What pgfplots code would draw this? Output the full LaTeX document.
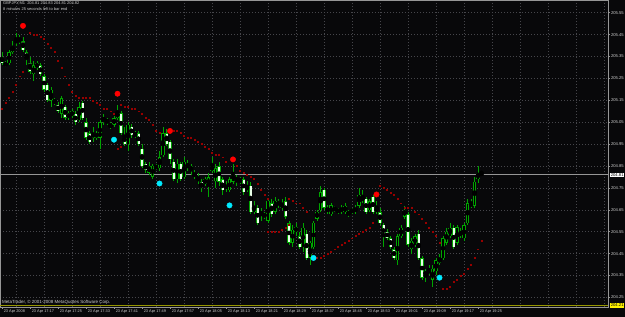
\documentclass[border=0pt]{standalone}
\usepackage{fontspec}
\setmainfont{Liberation Sans}
\usepackage{pgfplots}
\usepackage{pgfplotstable}
\pgfplotsset{compat=1.18}
\definecolor{bg}{RGB}{8,8,10}
\definecolor{cgreen}{RGB}{0,165,0}
\definecolor{bearfill}{RGB}{232,255,232}
\definecolor{sardot}{RGB}{150,0,0}
\definecolor{bigred}{RGB}{255,0,0}
\definecolor{bigcyan}{RGB}{0,235,255}
\definecolor{gridc}{RGB}{70,70,75}
\definecolor{framec}{RGB}{150,150,150}
\definecolor{txt}{RGB}{205,205,205}
\definecolor{askc}{RGB}{150,150,0}

\pgfplotstableread{
i o h l c
0 205.35 205.37 205.31 205.32
1 205.32 205.33 205.30 205.31
6 205.42 205.44 205.37 205.38
7 205.37 205.38 205.31 205.34
8 205.32 205.35 205.27 205.28
10 205.32 205.33 205.29 205.30
11 205.31 205.32 205.26 205.27
12 205.26 205.27 205.19 205.20
13 205.22 205.23 205.14 205.15
15 205.15 205.16 205.13 205.14
16 205.13 205.14 205.09 205.10
18 205.12 205.13 205.06 205.07
20 205.10 205.11 205.07 205.08
21 205.09 205.10 205.04 205.05
23 205.14 205.15 205.06 205.07
24 205.05 205.07 204.97 204.98
25 205.00 205.01 204.95 204.96
30 205.06 205.07 205.04 205.05
31 205.04 205.05 205.02 205.03
34 205.09 205.10 204.99 205.00
35 204.99 205.03 204.94 204.95
37 205.03 205.04 204.98 204.99
38 205.00 205.01 204.98 204.99
39 205.00 205.01 204.94 204.95
40 204.93 204.95 204.84 204.85
41 204.86 204.87 204.82 204.83
47 205.00 205.02 204.94 204.95
48 204.96 204.97 204.86 204.88
49 204.87 204.88 204.78 204.79
51 204.86 204.87 204.78 204.79
53 204.86 204.88 204.83 204.84
54 204.85 204.86 204.81 204.83
55 204.82 204.83 204.79 204.80
57 204.78 204.79 204.73 204.75
62 204.85 204.87 204.76 204.78
63 204.79 204.80 204.72 204.74
67 204.80 204.81 204.76 204.78
68 204.79 204.80 204.77 204.78
69 204.79 204.80 204.72 204.73
71 204.76 204.78 204.63 204.64
73 204.66 204.67 204.58 204.59
75 204.63 204.64 204.61 204.62
77 204.68 204.70 204.62 204.63
79 204.69 204.70 204.66 204.67
81 204.69 204.71 204.61 204.62
82 204.59 204.60 204.49 204.50
84 204.57 204.59 204.53 204.55
85 204.53 204.55 204.47 204.48
87 204.54 204.56 204.42 204.43
92 204.74 204.75 204.65 204.66
93 204.66 204.67 204.63 204.64
95 204.66 204.67 204.64 204.65
99 204.64 204.65 204.62 204.63
104 204.70 204.71 204.63 204.64
106 204.71 204.72 204.63 204.64
108 204.64 204.66 204.58 204.59
109 204.58 204.59 204.48 204.53
110 204.55 204.56 204.51 204.52
111 204.52 204.53 204.47 204.48
112 204.47 204.48 204.42 204.43
116 204.63 204.64 204.48 204.49
119 204.54 204.56 204.42 204.43
120 204.43 204.44 204.33 204.34
122 204.38 204.40 204.35 204.36
129 204.57 204.58 204.47 204.48
131 204.55 204.57 204.52 204.53
137 204.82 204.83 204.81 204.81
}\bear

\pgfplotstableread{
i o h l c
2 205.32 205.38 205.31 205.37
3 205.37 205.42 205.36 205.40
4 205.41 205.46 205.40 205.43
5 205.42 205.45 205.41 205.43
9 205.27 205.33 205.24 205.31
14 205.15 205.21 205.12 205.20
17 205.09 205.17 205.07 205.16
19 205.07 205.10 205.06 205.09
22 205.06 205.14 205.05 205.12
26 204.98 205.03 204.96 205.00
27 204.98 205.01 204.97 205.00
28 204.98 205.06 204.93 205.05
29 205.05 205.09 205.04 205.07
32 205.04 205.08 205.03 205.07
33 205.07 205.13 205.06 205.10
36 204.95 205.05 204.92 205.04
42 204.82 204.87 204.81 204.85
43 204.80 204.86 204.79 204.85
44 204.84 204.86 204.83 204.85
45 204.84 204.92 204.83 204.89
46 204.90 205.03 204.89 205.00
50 204.79 204.88 204.77 204.86
52 204.80 204.89 204.79 204.87
56 204.78 204.82 204.77 204.80
58 204.77 204.80 204.76 204.79
59 204.76 204.82 204.71 204.80
60 204.83 204.89 204.82 204.85
61 204.78 204.86 204.75 204.84
64 204.75 204.78 204.73 204.76
65 204.74 204.80 204.73 204.79
66 204.78 204.86 204.77 204.82
70 204.74 204.78 204.73 204.76
72 204.64 204.69 204.63 204.67
74 204.63 204.66 204.60 204.64
76 204.60 204.70 204.59 204.69
78 204.64 204.71 204.63 204.69
80 204.66 204.70 204.65 204.68
83 204.50 204.58 204.48 204.56
86 204.48 204.59 204.46 204.57
88 204.43 204.51 204.40 204.50
89 204.48 204.60 204.47 204.59
90 204.61 204.65 204.60 204.64
91 204.65 204.76 204.64 204.73
94 204.63 204.68 204.62 204.67
96 204.64 204.66 204.63 204.65
97 204.64 204.67 204.63 204.66
98 204.64 204.68 204.63 204.67
100 204.64 204.66 204.63 204.65
101 204.64 204.67 204.63 204.66
102 204.67 204.75 204.66 204.72
103 204.69 204.74 204.68 204.71
105 204.65 204.70 204.64 204.69
107 204.64 204.69 204.63 204.66
113 204.42 204.54 204.40 204.53
114 204.53 204.58 204.52 204.57
115 204.62 204.67 204.61 204.65
117 204.47 204.52 204.45 204.51
118 204.49 204.54 204.48 204.53
121 204.35 204.38 204.32 204.37
123 204.33 204.40 204.30 204.38
124 204.37 204.43 204.35 204.42
125 204.41 204.45 204.40 204.43
126 204.43 204.53 204.42 204.52
127 204.50 204.57 204.49 204.55
128 204.53 204.59 204.52 204.57
130 204.50 204.58 204.49 204.57
132 204.52 204.59 204.51 204.58
133 204.59 204.70 204.58 204.68
134 204.67 204.70 204.66 204.68
135 204.67 204.80 204.66 204.78
136 204.79 204.85 204.77 204.82
}\bull

\pgfplotstableread{
i p
0 205.11
1 205.14
2 205.16
3 205.19
4 205.22
5 205.26
6 205.28
8 205.46
9 205.45
10 205.45
11 205.44
12 205.43
13 205.41
14 205.39
15 205.37
16 205.33
17 205.30
18 205.26
19 205.22
20 205.19
21 205.17
22 205.16
23 205.16
24 205.16
25 205.16
26 205.15
27 205.14
28 205.13
29 205.11
30 205.11
31 205.10
32 205.09
33 204.93
34 204.94
34 205.13
35 205.12
36 205.12
37 205.11
38 205.11
39 205.10
40 205.09
41 205.07
42 205.06
43 205.04
44 205.01
45 205.00
49 205.01
50 205.01
51 205.00
52 204.99
53 204.98
54 204.98
55 204.97
56 204.96
57 204.95
58 204.94
59 204.93
60 204.91
61 204.90
62 204.90
63 204.89
64 204.87
67 204.85
68 204.83
69 204.82
70 204.81
71 204.80
72 204.79
73 204.77
74 204.74
75 204.72
76 204.70
76 204.55
77 204.55
78 204.55
79 204.55
80 204.56
81 204.57
82 204.58
82 204.70
83 204.69
84 204.68
85 204.68
86 204.66
87 204.64
90 204.43
91 204.43
92 204.44
93 204.45
94 204.46
95 204.47
96 204.48
97 204.49
98 204.50
99 204.51
100 204.52
101 204.53
102 204.54
103 204.55
104 204.56
105 204.57
106 204.59
108 204.76
109 204.75
110 204.74
111 204.73
112 204.72
113 204.70
114 204.68
115 204.66
116 204.66
117 204.66
118 204.64
119 204.63
120 204.61
121 204.59
122 204.57
123 204.55
124 204.53
125 204.50
126 204.29
127 204.29
128 204.30
129 204.32
130 204.33
131 204.35
132 204.36
133 204.38
134 204.40
135 204.43
136 204.47
137 204.51
}\sar

\pgfplotstableread{
i p
6 205.49
33 205.18
48 205.01
66 204.88
107 204.72
}\reddots

\pgfplotstableread{
i p
32 204.97
45 204.77
65 204.67
89 204.43
125 204.34
}\cyandots

\begin{document}
\begin{tikzpicture}
\fill[bg] (0,0) rectangle (625bp,317bp);
\begin{axis}[
  at={(0bp,10bp)}, anchor=south west,
  scale only axis, width=608bp, height=307bp,
  xmin=-0.571, xmax=173.14, ymin=204.206, ymax=205.608,
  axis line style={draw=framec, line width=0.6bp},
  xtick={0,8,...,136},
  xticklabels={23 Apr 2008,23 Apr 17:17,23 Apr 17:25,23 Apr 17:33,23 Apr 17:41,23 Apr 17:49,23 Apr 17:57,23 Apr 18:05,23 Apr 18:13,23 Apr 18:21,23 Apr 18:29,23 Apr 18:37,23 Apr 18:45,23 Apr 18:53,23 Apr 19:01,23 Apr 19:09,23 Apr 19:17,23 Apr 19:25},
  minor xtick={4,12,...,172},
  xminorgrids=true,
  ytick={204.25,204.35,204.45,204.55,204.65,204.75,204.85,204.95,205.05,205.15,205.25,205.35,205.45,205.55},
  ymajorgrids=true,
  major grid style={draw=gridc, line width=0.5bp, dash pattern=on 1bp off 2bp},
  minor grid style={draw=gridc, line width=0.5bp, dash pattern=on 1bp off 2bp},
  xtick pos=bottom, ytick pos=right, yticklabel pos=right,
  tick align=outside, major tick length=2bp, minor tick length=0bp,
  tick style={draw=framec, line width=0.5bp},
  /pgf/number format/assume math mode=true,
  yticklabel style={/pgf/number format/.cd, fixed, fixed zerofill, precision=2, /tikz/.cd,
    font=\fontsize{4.2}{5}\selectfont, text=txt, anchor=west, inner sep=0.8bp},
  xticklabel style={font=\fontsize{3.9}{4.5}\selectfont, text=txt, anchor=north west, inner sep=0.6bp, xshift=1bp},
  clip=true,
]
% parabolic SAR small dots
\addplot[only marks, mark=square*, mark size=0.45bp, color=sardot, forget plot] table[x=i,y=p]{\sar};
% ask line at bottom and bid line
\addplot[askc, line width=1bp, forget plot] coordinates {(-0.571,204.213) (173.14,204.213)};
\addplot[framec, line width=0.7bp, forget plot] coordinates {(-0.571,204.81) (173.14,204.81)};
% wicks
\addplot[only marks, mark=none, forget plot, error bars/.cd, y dir=both, y explicit, error mark=none,
  error bar style={draw=cgreen, line width=0.9bp, solid}]
  table[x=i, y expr={(\thisrow{h}+\thisrow{l})/2}, y error expr={(\thisrow{h}-\thisrow{l})/2}]{\bear};
\addplot[only marks, mark=none, forget plot, error bars/.cd, y dir=both, y explicit, error mark=none,
  error bar style={draw=cgreen, line width=0.9bp, solid}]
  table[x=i, y expr={(\thisrow{h}+\thisrow{l})/2}, y error expr={(\thisrow{h}-\thisrow{l})/2}]{\bull};
% bodies (outline)
\addplot[only marks, mark=none, forget plot, error bars/.cd, y dir=both, y explicit, error mark=none,
  error bar style={draw=cgreen, line width=3.2bp, solid}]
  table[x=i, y expr={(\thisrow{o}+\thisrow{c})/2}, y error expr={max(abs(\thisrow{o}-\thisrow{c})/2,0.0015)}]{\bear};
\addplot[only marks, mark=none, forget plot, error bars/.cd, y dir=both, y explicit, error mark=none,
  error bar style={draw=cgreen, line width=3.2bp, solid}]
  table[x=i, y expr={(\thisrow{o}+\thisrow{c})/2}, y error expr={max(abs(\thisrow{o}-\thisrow{c})/2,0.0015)}]{\bull};
% bodies (fill)
\addplot[only marks, mark=none, forget plot, error bars/.cd, y dir=both, y explicit, error mark=none,
  error bar style={draw=bearfill, line width=2.0bp, solid}]
  table[x=i, y expr={(\thisrow{o}+\thisrow{c})/2}, y error expr={max(abs(\thisrow{o}-\thisrow{c})/2-0.0018,0)}]{\bear};
\addplot[only marks, mark=none, forget plot, error bars/.cd, y dir=both, y explicit, error mark=none,
  error bar style={draw=black, line width=1.3bp, solid}]
  table[x=i, y expr={(\thisrow{o}+\thisrow{c})/2}, y error expr={max(abs(\thisrow{o}-\thisrow{c})/2-0.0022,0)}]{\bull};
% signal dots
\addplot[only marks, mark=*, mark size=2.7bp, color=bigred, forget plot] table[x=i,y=p]{\reddots};
\addplot[only marks, mark=*, mark size=2.7bp, color=bigcyan, forget plot] table[x=i,y=p]{\cyandots};
\coordinate (bidR) at (axis cs:173.14,204.81);
\coordinate (askR) at (axis cs:173.14,204.213);
\end{axis}
\node[anchor=west, fill=white, text=black, inner sep=0.6bp, font=\fontsize{4.2}{5}\selectfont, xshift=2bp] at (bidR) {204.81};
\node[anchor=west, fill=yellow, text=black, inner sep=0.6bp, font=\fontsize{4.2}{5}\selectfont, xshift=2bp] at (askR) {204.21};
\node[anchor=north west, text=txt, inner sep=0pt, font=\fontsize{4}{5}\selectfont] at (3bp,315.5bp) {GBPJPY,M1\ \ 204.81 204.83 204.81 204.82};
\node[anchor=north west, text=txt, inner sep=0pt, font=\fontsize{4}{5}\selectfont] at (3bp,309.5bp) {8 minutes 25 seconds left to bar end};
\node[anchor=south west, text=txt, inner sep=0pt, font=\fontsize{4.5}{5}\selectfont] at (2bp,12.5bp) {MetaTrader, © 2001-2008 MetaQuotes Software Corp.};
\pgfresetboundingbox
\path (0,0) rectangle (625bp,317bp);
\end{tikzpicture}
\end{document}
